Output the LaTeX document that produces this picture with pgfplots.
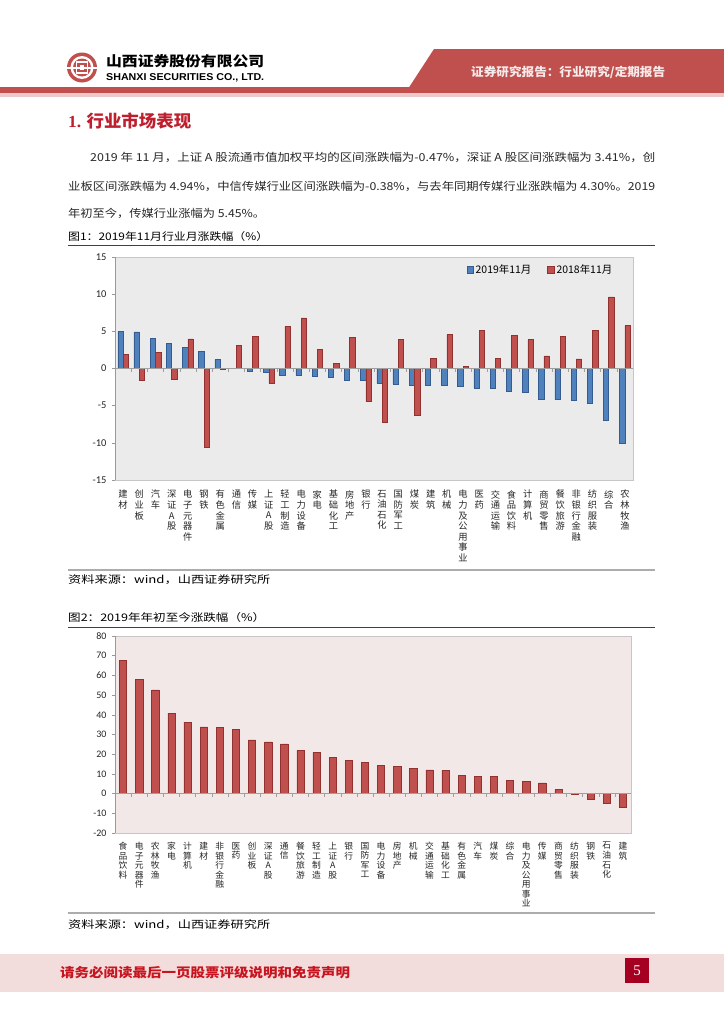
\documentclass[border=0pt]{standalone}
\usepackage{pgfplots}
\pgfplotsset{compat=1.18}
\usepackage{fontspec}
\usepackage{graphicx}
\setmainfont{Noto Sans CJK SC}
\newfontfamily\tickfont{Carlito}
\newfontfamily\enfont{Liberation Sans}
\newfontfamily\serifnum{Liberation Serif}
\definecolor{barblue}{RGB}{79,129,189}
\definecolor{barblueD}{RGB}{52,92,145}
\definecolor{barred}{RGB}{192,80,77}
\definecolor{barredD}{RGB}{145,50,48}
\definecolor{hdrred}{RGB}{192,80,78}
\definecolor{hdrpink}{RGB}{236,200,200}
\definecolor{headred}{RGB}{190,30,45}
\definecolor{pinkbg}{RGB}{242,232,232}
\definecolor{graybg}{RGB}{235,235,235}
\definecolor{footpink}{RGB}{242,220,220}
\definecolor{darkred}{RGB}{165,0,33}
\definecolor{foottext}{RGB}{200,20,30}
\definecolor{bodytext}{RGB}{40,40,40}

\begin{document}
\begin{tikzpicture}
\path[use as bounding box, fill=white] (0bp,0bp) rectangle (724bp,-1024bp);
\begin{scope}[x=1bp,y=-1bp]
% header
\fill[hdrred] (0,86.5) rectangle (724,92.5);
\fill[hdrpink] (0,92.5) rectangle (724,97);
\fill[hdrred] (434,49) -- (724,49) -- (724,92) -- (406,92) -- cycle;
\node[anchor=west, text=white!88!hdrred, font=\bfseries\fontsize{12}{12}\selectfont, inner sep=0] at (471,72.5) {\resizebox{194bp}{\height}{证券研究报告：行业研究/定期报告}};
% logo
\fill[hdrred] (82,67.5) circle (15);
\fill[white] (82,67.5) circle (11.5);
\fill[hdrred] (82,67.5) circle (9);
\draw[white, line width=1.8] (76.5,62) rectangle (87.5,73);
\fill[white] (79.8,65.3) rectangle (84.2,69.7);
\fill[white] (66,66.5) rectangle (98,68.5);
\node[anchor=west, font=\bfseries\fontsize{14}{14}\selectfont, inner sep=0] at (106,61.5) {\resizebox{158bp}{\height}{山西证券股份有限公司}};
\node[anchor=west, font=\enfont\bfseries\fontsize{10}{10}\selectfont, inner sep=0] at (106,77.5) {\resizebox{158bp}{\height}{SHANXI SECURITIES CO., LTD.}};
% heading
\node[anchor=west, text=headred, font=\bfseries\fontsize{17}{17}\selectfont, inner sep=0] at (68,121) {\resizebox{123bp}{\height}{{\serifnum\bfseries 1.} 行业市场表现}};
% paragraph
\node[anchor=west, text=bodytext, font=\fontsize{11}{11}\selectfont, inner sep=0] at (90,157) {\resizebox{565bp}{\height}{2019 年 11 月，上证 A 股流通市值加权平均的区间涨跌幅为-0.47\%，深证 A 股区间涨跌幅为 3.41\%，创}};
\node[anchor=west, text=bodytext, font=\fontsize{11}{11}\selectfont, inner sep=0] at (68,186) {\resizebox{587bp}{\height}{业板区间涨跌幅为 4.94\%，中信传媒行业区间涨跌幅为-0.38\%，与去年同期传媒行业涨跌幅为 4.30\%。2019}};
\node[anchor=west, text=bodytext, font=\fontsize{11}{11}\selectfont, inner sep=0] at (68,213) {\resizebox{197bp}{\height}{年初至今，传媒行业涨幅为 5.45\%。}};
% figure 1 frame
\node[anchor=west, font=\fontsize{10.5}{11}\selectfont, inner sep=0] at (68,237) {\resizebox{200bp}{\height}{图1：2019年11月行业月涨跌幅（\%）}};
\draw[black!75, line width=0.9] (68,245.5) -- (655,245.5);
\draw[gray!65, line width=1.6] (68,570) -- (655,570);
\node[anchor=west, font=\fontsize{10.5}{11}\selectfont, inner sep=0] at (68,579.5) {\resizebox{202bp}{\height}{资料来源：wind，山西证券研究所}};
% figure 2 frame
\node[anchor=west, font=\fontsize{10.5}{11}\selectfont, inner sep=0] at (68,618) {\resizebox{197bp}{\height}{图2：2019年年初至今涨跌幅（\%）}};
\draw[black!75, line width=0.9] (68,627.5) -- (655,627.5);
\draw[gray!65, line width=1.6] (68,913) -- (655,913);
\node[anchor=west, font=\fontsize{10.5}{11}\selectfont, inner sep=0] at (68,925) {\resizebox{202bp}{\height}{资料来源：wind，山西证券研究所}};
% footer
\fill[footpink] (0,954) rectangle (724,992);
\node[anchor=west, text=foottext, font=\bfseries\fontsize{13}{13}\selectfont, inner sep=0] at (60,973) {\resizebox{290bp}{\height}{请务必阅读最后一页股票评级说明和免责声明}};
\fill[darkred] (625,958) rectangle (649,983);
\node[text=white, font=\serifnum\fontsize{15}{15}\selectfont, inner sep=0] at (637,970.5) {5};
\end{scope}

% chart 1
\begin{axis}[
  at={(115bp,-480bp)}, anchor=south west,
  scale only axis, width=518bp, height=223bp,
  xmin=0.5, xmax=32.5, ymin=-15, ymax=15,
  ytick={-15,-10,-5,0,5,10,15},
  xtick={1,...,32},
  xticklabels={{建\\材},{创\\业\\板},{汽\\车},{深\\证\\A\\股},{电\\子\\元\\器\\件},{钢\\铁},{有\\色\\金\\属},{通\\信},{传\\媒},{上\\证\\A\\股},{轻\\工\\制\\造},{电\\力\\设\\备},{家\\电},{基\\础\\化\\工},{房\\地\\产},{银\\行},{石\\油\\石\\化},{国\\防\\军\\工},{煤\\炭},{建\\筑},{机\\械},{电\\力\\及\\公\\用\\事\\业},{医\\药},{交\\通\\运\\输},{食\\品\\饮\\料},{计\\算\\机},{商\\贸\\零\\售},{餐\\饮\\旅\\游},{非\\银\\行\\金\\融},{纺\\织\\服\\装},{综\\合},{农\\林\\牧\\渔}},
  x tick style={draw=none},
  ytick pos=left, tick align=outside, major tick length=3bp,
  y tick style={draw=gray!80, line width=0.6bp},
  axis line style={draw=gray!45, line width=0.8bp},
  axis background/.style={fill=graybg},
  /pgf/number format/assume math mode=true,
  yticklabel style={font=\tickfont\fontsize{10.5}{11}\selectfont, text=black!85, xshift=-2bp},
  xticklabel style={font=\fontsize{9.3}{10.6}\selectfont, align=center, anchor=north, inner sep=0pt, yshift=-7bp, text=black!85},
  ybar=0pt, bar width=5.3bp,
  legend style={at={(0.97,0.985)}, anchor=north east, draw=none, fill=none, legend columns=2, font=\fontsize{10.5}{11}\selectfont, /tikz/every even column/.append style={column sep=14bp}},
  legend cell align=left,
]
\addplot[fill=barblue, draw=barblueD, line width=0.5bp, legend image code/.code={\draw[fill=barblue,draw=barblueD] (0bp,-3.3bp) rectangle (6.6bp,3.3bp);}] coordinates {
(1,5.0) (2,4.94) (3,4.1) (4,3.41) (5,2.8) (6,2.3) (7,1.2) (8,0.05) (9,-0.38) (10,-0.47) (11,-0.85) (12,-0.94) (13,-1.1) (14,-1.16) (15,-1.6) (16,-1.6) (17,-2.0) (18,-2.1) (19,-2.2) (20,-2.28) (21,-2.3) (22,-2.37) (23,-2.6) (24,-2.6) (25,-3.0) (26,-3.2) (27,-4.2) (28,-4.2) (29,-4.33) (30,-4.7) (31,-7.0) (32,-10.0)};
\addlegendentry{2019年11月}
\addplot[fill=barred, draw=barredD, line width=0.5bp, legend image code/.code={\draw[fill=barred,draw=barredD] (0bp,-3.3bp) rectangle (6.6bp,3.3bp);}] coordinates {
(1,1.88) (2,-1.56) (3,2.14) (4,-1.38) (5,4.0) (6,-10.6) (7,-0.05) (8,3.1) (9,4.3) (10,-2.0) (11,5.7) (12,6.8) (13,2.6) (14,0.7) (15,4.15) (16,-4.46) (17,-7.2) (18,3.9) (19,-6.3) (20,1.34) (21,4.6) (22,0.27) (23,5.1) (24,1.34) (25,4.5) (26,3.9) (27,1.7) (28,4.3) (29,1.3) (30,5.1) (31,9.64) (32,5.76)};
\addlegendentry{2018年11月}
\draw[gray!75, line width=0.8bp] (axis cs:0.5,0) -- (axis cs:32.5,0);
\pgfplotsinvokeforeach{1.5,2.5,...,31.5}{\draw[gray!75, line width=0.5bp] (axis cs:#1,0) -- ++(0bp,-3bp);}
\draw[gray!80, line width=1.2bp] (rel axis cs:0,0) -- (rel axis cs:0,1);
\end{axis}

% chart 2
\begin{axis}[
  at={(115bp,-833bp)}, anchor=south west,
  scale only axis, width=516bp, height=197bp,
  xmin=0.5, xmax=32.5, ymin=-20, ymax=80,
  ytick={-20,-10,0,10,20,30,40,50,60,70,80},
  xtick={1,...,32},
  xticklabels={{食\\品\\饮\\料},{电\\子\\元\\器\\件},{农\\林\\牧\\渔},{家\\电},{计\\算\\机},{建\\材},{非\\银\\行\\金\\融},{医\\药},{创\\业\\板},{深\\证\\A\\股},{通\\信},{餐\\饮\\旅\\游},{轻\\工\\制\\造},{上\\证\\A\\股},{银\\行},{国\\防\\军\\工},{电\\力\\设\\备},{房\\地\\产},{机\\械},{交\\通\\运\\输},{基\\础\\化\\工},{有\\色\\金\\属},{汽\\车},{煤\\炭},{综\\合},{电\\力\\及\\公\\用\\事\\业},{传\\媒},{商\\贸\\零\\售},{纺\\织\\服\\装},{钢\\铁},{石\\油\\石\\化},{建\\筑}},
  x tick style={draw=none},
  ytick pos=left, tick align=outside, major tick length=3bp,
  y tick style={draw=gray!80, line width=0.6bp},
  axis line style={draw=gray!45, line width=0.8bp},
  axis background/.style={fill=pinkbg},
  /pgf/number format/assume math mode=true,
  yticklabel style={font=\tickfont\fontsize{10}{11}\selectfont, text=black!85, xshift=-2bp},
  xticklabel style={font=\fontsize{8.8}{9.6}\selectfont, align=center, anchor=north, inner sep=0pt, yshift=-6bp, text=black!85},
  ybar=0pt, bar width=7.3bp,
]
\addplot[fill=barred, draw=barredD, line width=0.5bp] coordinates {
(1,67.8) (2,58.1) (3,52.7) (4,40.8) (5,36.3) (6,33.9) (7,33.6) (8,32.7) (9,27.3) (10,26.2) (11,25.3) (12,21.9) (13,20.9) (14,18.4) (15,17.0) (16,15.7) (17,14.5) (18,13.8) (19,12.7) (20,12.0) (21,11.8) (22,9.3) (23,8.6) (24,8.6) (25,6.6) (26,6.2) (27,5.45) (28,2.0) (29,-0.3) (30,-2.9) (31,-5.1) (32,-7.1)};
\draw[gray!75, line width=0.8bp] (axis cs:0.5,0) -- (axis cs:32.5,0);
\pgfplotsinvokeforeach{1.5,2.5,...,31.5}{\draw[gray!75, line width=0.5bp] (axis cs:#1,0) -- ++(0bp,-3bp);}
\draw[gray!80, line width=1.2bp] (rel axis cs:0,0) -- (rel axis cs:0,1);
\end{axis}
\end{tikzpicture}
\end{document}
